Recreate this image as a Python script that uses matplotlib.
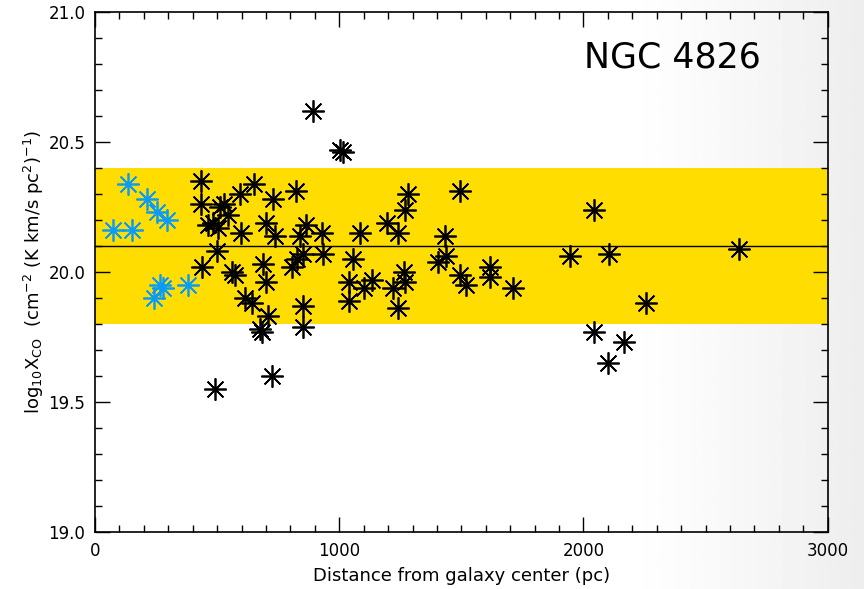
import numpy as np
import matplotlib
matplotlib.use('Agg')
import matplotlib.pyplot as plt
from matplotlib.ticker import MultipleLocator

# inner clouds (blue) and the rest of the clouds (black)
inner_dist = [74, 151, 135, 213, 254, 294, 241, 266, 278, 380]
inner_xco = [20.16, 20.16, 20.34, 20.28, 20.23, 20.20, 19.90, 19.95, 19.94, 19.95]

outer_dist = [434, 434, 511, 528, 544, 483, 462, 503, 593, 650,
              728, 822, 597, 699, 736, 838, 863, 499, 438, 560,
              573, 687, 699, 806, 826, 851, 613, 642, 708, 675,
              683, 851, 851, 491, 724, 892, 1002, 1014, 1280, 1268,
              1493, 928, 1084, 1194, 1239, 1431, 933, 1055, 1403, 1436,
              1039, 1039, 1100, 1133, 1219, 1264, 1268, 1239, 1493, 1517,
              1616, 1616, 1710, 2041, 1943, 2106, 2638, 2258, 2045, 2164,
              2102]
outer_xco = [20.35, 20.26, 20.25, 20.26, 20.22, 20.19, 20.18, 20.17, 20.30, 20.34,
             20.28, 20.31, 20.15, 20.19, 20.14, 20.14, 20.18, 20.08, 20.02, 20.00,
             19.99, 20.03, 19.96, 20.02, 20.05, 20.07, 19.90, 19.88, 19.83, 19.78,
             19.77, 19.87, 19.79, 19.55, 19.60, 20.62, 20.47, 20.46, 20.30, 20.24,
             20.31, 20.15, 20.15, 20.19, 20.15, 20.14, 20.07, 20.05, 20.04, 20.06,
             19.96, 19.89, 19.94, 19.97, 19.94, 20.00, 19.96, 19.86, 19.99, 19.95,
             20.02, 19.98, 19.94, 20.24, 20.06, 20.07, 20.09, 19.88, 19.77, 19.73,
             19.65]

mean_xco = 20.1
band_lo, band_hi = 19.8, 20.4

fig = plt.figure(figsize=(8.64, 5.89), dpi=100)

# light grey fade on the right side of the page
bg = fig.add_axes([0, 0, 1, 1], zorder=-10)
ramp = np.linspace(0, 1, 400)
shade = 1.0 - 0.07 * np.clip((ramp - 0.72) / 0.28, 0, 1) ** 1.2
img = np.tile(shade, (10, 1))
bg.imshow(img, cmap='gray', vmin=0, vmax=1, aspect='auto', extent=[0, 1, 0, 1])
bg.axis('off')

ax = fig.add_axes([0.110, 0.0968, 0.848, 0.8828])
ax.set_facecolor('none')

ax.axhspan(band_lo, band_hi, color='#FFDD00', lw=0, zorder=1)
ax.axhline(mean_xco, color='black', lw=1.0, zorder=2)

star = (8, 2, 0)
ax.plot(outer_dist, outer_xco, ls='none', marker=star, ms=16, mew=1.25,
        color='black', zorder=3)
ax.plot(inner_dist, inner_xco, ls='none', marker=star, ms=16, mew=1.25,
        color='#0A9BF5', zorder=3)

ax.set_xlim(0, 3000)
ax.set_ylim(19.0, 21.0)
ax.xaxis.set_major_locator(MultipleLocator(1000))
ax.xaxis.set_minor_locator(MultipleLocator(100))
ax.yaxis.set_major_locator(MultipleLocator(0.5))
ax.yaxis.set_minor_locator(MultipleLocator(0.1))
ax.yaxis.set_major_formatter(plt.FormatStrFormatter('%.1f'))
ax.tick_params(which='both', direction='in', top=True, right=True, labelsize=12)
ax.tick_params(which='major', length=11, width=1, pad=7)
ax.tick_params(which='minor', length=5, width=1)
for s in ax.spines.values():
    s.set_linewidth(1.2)

ax.set_xlabel('Distance from galaxy center (pc)', fontsize=13, labelpad=5)
ax.set_ylabel(r'log$_{10}$X$_{\rm CO}$  (cm$^{-2}$ (K km/s pc$^{2}$)$^{-1}$)',
              fontsize=13, labelpad=2)

ax.text(0.668, 0.913, 'NGC 4826', transform=ax.transAxes, fontsize=25,
        va='center', ha='left')

fig.savefig('out.png', dpi=100)
